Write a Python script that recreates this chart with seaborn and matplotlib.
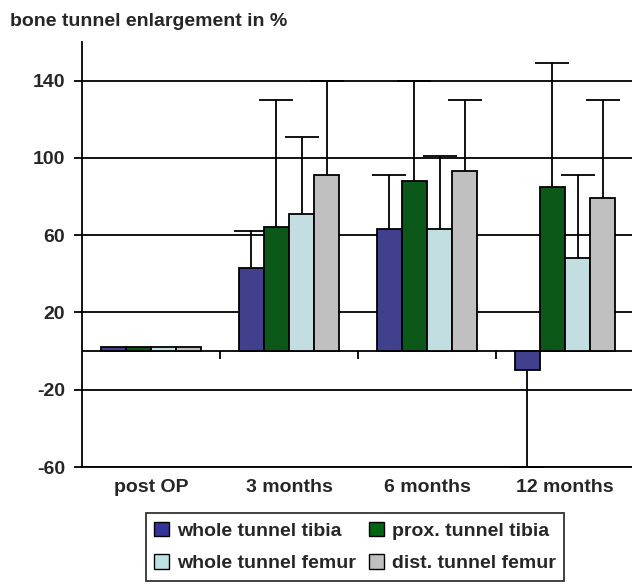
import numpy as np
import pandas as pd
import matplotlib
matplotlib.use("Agg")
import matplotlib.pyplot as plt
import seaborn as sns
from matplotlib.patches import Patch

categories = ["post OP", "3 months", "6 months", "12 months"]
series = ["whole tunnel tibia", "prox. tunnel tibia", "whole tunnel femur", "dist. tunnel femur"]
colors = ["#333399", "#006411", "#BDE2E6", "#C0C0C0"]

whole_tibia = [2, 43, 63, -10]
prox_tibia = [2, 64, 88, 85]
whole_femur = [2, 71, 63, 48]
dist_femur = [2, 91, 93, 79]

# one-sided error (SD) values
err_whole_tibia = [0, 19, 28, 50]
err_prox_tibia = [0, 66, 52, 64]
err_whole_femur = [0, 40, 38, 43]
err_dist_femur = [0, 49, 37, 51]

values = [whole_tibia, prox_tibia, whole_femur, dist_femur]
errors = [err_whole_tibia, err_prox_tibia, err_whole_femur, err_dist_femur]

rows = []
for s, vals, errs in zip(series, values, errors):
    for c, v, e in zip(categories, vals, errs):
        rows.append({"time": c, "group": s, "value": v, "err": e})
df = pd.DataFrame(rows)

sns.set_style("white")
plt.rcParams["font.family"] = ["Liberation Sans", "DejaVu Sans"]
plt.rcParams["font.weight"] = "bold"
plt.rcParams["axes.unicode_minus"] = False

FS = 14

fig = plt.figure(figsize=(6.32, 5.85), dpi=100)
ax = fig.add_axes([82 / 632, 1 - 467 / 585, 552 / 632, (467 - 42) / 585])

sns.barplot(data=df, x="time", y="value", hue="group", order=categories,
            hue_order=series, palette=colors, width=0.725, errorbar=None,
            edgecolor="black", linewidth=1.3, ax=ax, legend=False, zorder=3)

bars = ax.patches
for gi, s in enumerate(series):
    for ci, c in enumerate(categories):
        p = bars[gi * len(categories) + ci]
        v = values[gi][ci]
        e = errors[gi][ci]
        if e <= 0:
            continue
        xc = p.get_x() + p.get_width() / 2
        if v >= 0:
            yerr = [[0], [e]]
        else:
            yerr = [[e], [0]]
        _, caps, _ = ax.errorbar([xc], [v], yerr=yerr, fmt="none", ecolor="black",
                                 elinewidth=1.3, capsize=12.5, capthick=1.3, zorder=2)
        # hide the cap at the bar end
        if v >= 0:
            caps[0].set_visible(False)
        else:
            caps[1].set_visible(False)

ax.set_ylim(-60, 160)
ax.set_xlim(-0.5, 3.5)
ax.set_yticks([-60, -20, 20, 60, 100, 140])
ax.yaxis.grid(True, color="black", linewidth=1.3, zorder=0)
ax.set_axisbelow(True)
ax.axhline(0, color="black", linewidth=1.3, zorder=2.5)
ax.vlines([0.5, 1.5, 2.5], -4, 0, color="black", linewidth=1.3)

for sp in ["top", "right"]:
    ax.spines[sp].set_visible(False)
for sp in ["left", "bottom"]:
    ax.spines[sp].set_linewidth(1.3)
    ax.spines[sp].set_color("black")

ax.tick_params(axis="y", direction="out", length=6, width=1.3, color="black",
               labelsize=FS, pad=6, left=True)
ax.tick_params(axis="x", length=0, labelsize=FS, pad=9)
for lab in ax.get_xticklabels() + ax.get_yticklabels():
    lab.set_fontweight("bold")
ax.set_xlabel("")
ax.set_ylabel("")

fig.text(10 / 632, 1 - 21 / 585, "bone tunnel enlargement in %", fontsize=FS,
         fontweight="bold", va="center", ha="left")

handles = [Patch(facecolor=col, edgecolor="black", linewidth=1.0, label=s)
           for col, s in zip(colors, series)]
order = [0, 2, 1, 3]
leg = fig.legend(handles=[handles[i] for i in order], loc="center",
                 bbox_to_anchor=(355 / 632, 1 - 547 / 585),
                 ncol=2, frameon=True, fancybox=False, edgecolor="black",
                 prop={"size": FS, "weight": "bold"}, handlelength=0.75, handleheight=0.75,
                 handletextpad=0.4, columnspacing=0.7, labelspacing=0.75,
                 borderpad=0.45, borderaxespad=0)
leg.get_frame().set_linewidth(1.3)

fig.savefig("out.png", dpi=100)
